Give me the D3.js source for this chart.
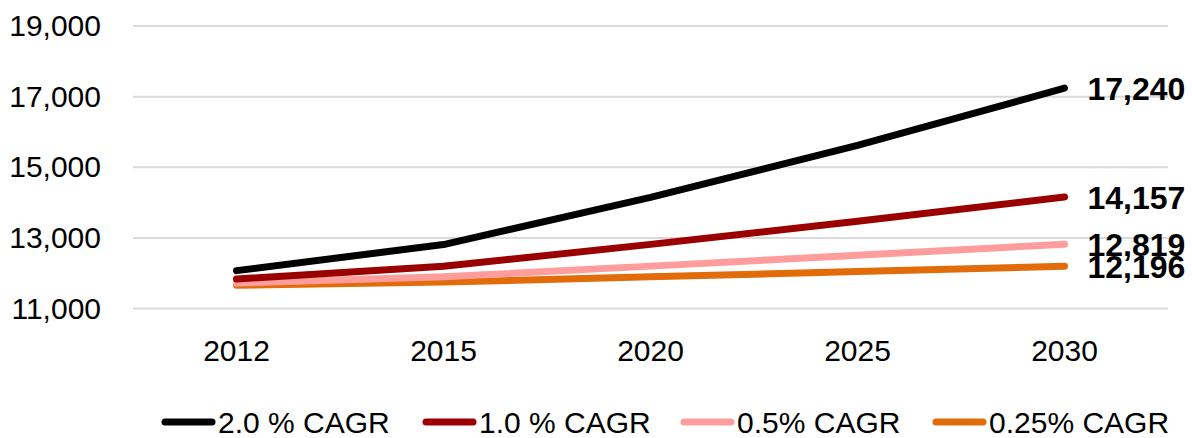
<!DOCTYPE html>
<meta charset="utf-8">
<html>
<head>
<script src="https://cdn.jsdelivr.net/npm/d3@7"></script>
<style>
body { margin: 0; background: #fff; }
text { font-family: "Liberation Sans", Arial, sans-serif; }
</style>
</head>
<body>
<script>
// chart data -----------------------------------------------------------------
var years = ["2012", "2015", "2020", "2025", "2030"];
var seriesNames = ["2.0 % CAGR", "1.0 % CAGR", "0.5% CAGR", "0.25% CAGR"];
var seriesColors = ["#000000", "#9b0000", "#ff9d9d", "#e36c0a"];
var cagr20 = [12072, 12811, 14145, 15617, 17240];
var cagr10 = [11835, 12194, 12816, 13470, 14157];
var cagr05 = [11719, 11896, 12200, 12508, 12819];
var cagr025 = [11660, 11748, 11896, 12046, 12196];
var yTicks = [11000, 13000, 15000, 17000, 19000];

var allSeries = [cagr20, cagr10, cagr05, cagr025];

var width = 1192, height = 438;
var plotLeft = 133, plotRight = 1168, plotTop = 26, plotBottom = 308.5;

var svg = d3.select("body").append("svg")
  .attr("width", width)
  .attr("height", height);

var x = d3.scaleBand().domain(years).range([plotLeft, plotRight]);
var y = d3.scaleLinear().domain([11000, 19000]).range([plotBottom, plotTop]);

// gridlines
svg.append("g")
  .selectAll("line")
  .data(yTicks)
  .enter().append("line")
  .attr("x1", plotLeft)
  .attr("x2", plotRight)
  .attr("y1", function(d) { return y(d); })
  .attr("y2", function(d) { return y(d); })
  .style("stroke", "#d9d9d9")
  .style("stroke-width", 2);

// y axis
var yAxis = svg.append("g")
  .attr("transform", "translate(" + (plotLeft - 30) + ",0)")
  .call(d3.axisLeft(y).tickValues(yTicks).tickSize(0).tickFormat(d3.format(",")));
yAxis.select(".domain").remove();
yAxis.selectAll("text")
  .style("font-family", "Liberation Sans, Arial, sans-serif")
  .style("font-size", "30px")
  .style("fill", "#000")
  .attr("x", -2);

// x axis
var xAxis = svg.append("g")
  .attr("transform", "translate(0," + (plotBottom + 42) + ")")
  .call(d3.axisBottom(x).tickSize(0));
xAxis.select(".domain").remove();
xAxis.selectAll("text")
  .style("font-family", "Liberation Sans, Arial, sans-serif")
  .style("font-size", "30px")
  .style("fill", "#000")
  .attr("dy", "0.35em")
  .attr("y", 0);

// lines
var line = d3.line()
  .x(function(d, i) { return x(years[i]) + x.bandwidth() / 2; })
  .y(function(d) { return y(d); });

svg.append("g")
  .selectAll("path")
  .data(allSeries.slice().reverse())
  .enter().append("path")
  .attr("d", line)
  .style("fill", "none")
  .style("stroke", function(d, i) { return seriesColors[3 - i]; })
  .style("stroke-width", 7)
  .style("stroke-linecap", "round")
  .style("stroke-linejoin", "round");

// end labels
svg.append("g")
  .selectAll("text")
  .data(allSeries)
  .enter().append("text")
  .attr("x", x("2030") + x.bandwidth() / 2 + 23)
  .attr("y", function(d) { return y(d[d.length - 1]); })
  .attr("dy", "0.36em")
  .style("font-size", "32px")
  .style("font-weight", "bold")
  .text(function(d) { return d3.format(",")(d[d.length - 1]); });

// legend
var legendX = [162, 423, 681, 933];
var legend = svg.append("g")
  .selectAll("g")
  .data(seriesNames)
  .enter().append("g")
  .attr("transform", function(d, i) { return "translate(" + legendX[i] + ",422)"; });

legend.append("line")
  .attr("x1", 3).attr("x2", 50)
  .attr("y1", 0).attr("y2", 0)
  .style("stroke", function(d, i) { return seriesColors[i]; })
  .style("stroke-width", 7)
  .style("stroke-linecap", "round");

legend.append("text")
  .attr("x", 56)
  .attr("dy", "0.36em")
  .style("font-size", "30px")
  .text(function(d) { return d; });
</script>
</body>
</html>
